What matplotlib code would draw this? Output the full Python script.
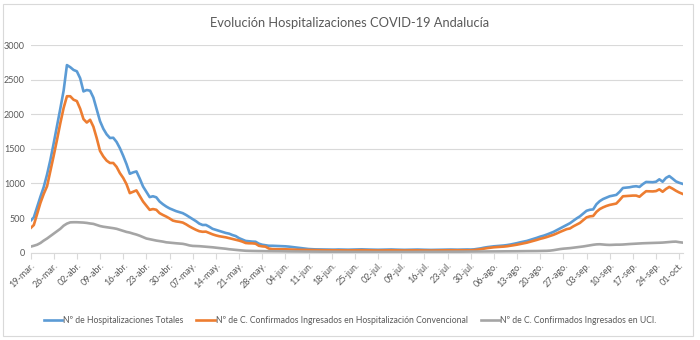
import matplotlib.pyplot as plt
import matplotlib.patches as mpatches
import numpy as np
import pandas as pd

plt.rcParams['font.family'] = ['Lato', 'DejaVu Sans']

# Daily values from 19-mar-2020
total = [
    460, 510, 660, 810, 950, 1130, 1340, 1580, 1830, 2080,
    2340, 2710, 2680, 2640, 2620, 2520, 2330, 2350, 2340, 2240,
    2070, 1900, 1790, 1710, 1657, 1660, 1600, 1510, 1400, 1280,
    1140, 1160, 1174, 1070, 956, 880, 803, 815, 800, 739,
    700, 667, 640, 620, 600, 585, 571, 545, 515, 484,
    455, 420, 400, 401, 375, 345, 330, 315, 300, 285,
    275, 255, 240, 210, 190, 170, 165, 160, 158, 130,
    115, 108, 100, 100, 98, 97, 95, 92, 88, 82,
    76, 70, 64, 58, 53, 50, 48, 47, 46, 45,
    45, 44, 44, 46, 45, 44, 43, 44, 45, 47,
    48, 46, 45, 44, 43, 42, 43, 44, 45, 46,
    44, 43, 42, 41, 42, 43, 44, 45, 43, 42,
    41, 40, 41, 42, 43, 44, 46, 45, 44, 43,
    44, 45, 46, 45, 48, 55, 62, 72, 80, 86,
    92, 96, 100, 104, 110, 118, 128, 138, 150, 160,
    170, 185, 200, 215, 232, 245, 262, 281, 300, 325,
    350, 375, 400, 426, 460, 495, 525, 565, 605, 620,
    625, 700, 745, 775, 795, 815, 825, 835, 880, 935,
    940, 945, 955, 960, 950, 990, 1022, 1020, 1018, 1025,
    1060, 1025, 1080, 1107, 1070, 1030, 1010, 995,
]

convencional = [
    354, 400, 560, 720, 850, 960, 1180, 1400, 1630, 1870,
    2090, 2260, 2260, 2210, 2190, 2080, 1930, 1880, 1920, 1820,
    1655, 1470, 1390, 1330, 1296, 1296, 1240, 1150, 1080, 990,
    860, 880, 900, 820, 739, 680, 619, 630, 620, 571,
    545, 522, 495, 464, 452, 445, 435, 410, 380, 354,
    330, 310, 302, 304, 285, 265, 250, 238, 230, 222,
    210, 198, 185, 175, 160, 140, 136, 135, 130, 100,
    92, 87, 60, 52, 50, 50, 49, 49, 47, 45,
    44, 42, 41, 40, 39, 38, 37, 36, 36, 35,
    35, 34, 34, 35, 34, 33, 33, 34, 35, 36,
    36, 35, 34, 33, 33, 32, 33, 34, 34, 35,
    34, 33, 32, 32, 33, 33, 34, 34, 33, 32,
    32, 31, 32, 33, 34, 34, 35, 35, 34, 34,
    34, 35, 36, 35, 38, 44, 50, 58, 66, 72,
    78, 82, 85, 88, 93, 100, 108, 116, 126, 135,
    145, 158, 170, 185, 200, 212, 226, 242, 258, 278,
    300, 320, 340, 350, 380, 405, 430, 470, 510, 525,
    530, 590, 630, 655, 675, 690, 700, 710, 760, 815,
    818, 822, 825, 825, 808, 850, 888, 886, 885, 890,
    915, 880, 920, 950, 925, 895, 870, 850,
]

uci = [
    87, 100, 115, 140, 175, 205, 240, 275, 310, 345,
    390, 420, 438, 440, 440, 438, 435, 430, 422, 416,
    400, 385, 375, 368, 360, 354, 345, 330, 315, 300,
    290, 275, 262, 245, 225, 205, 195, 185, 175, 168,
    160, 150, 145, 140, 136, 132, 128, 118, 105, 98,
    96, 94, 90, 87, 82, 78, 72, 67, 62, 57,
    50, 45, 40, 36, 32, 28, 26, 25, 24, 23,
    22, 22, 21, 21, 20, 20, 19, 19, 18, 18,
    17, 17, 16, 16, 16, 15, 15, 15, 14, 14,
    14, 13, 13, 13, 12, 12, 12, 12, 11, 11,
    11, 11, 11, 10, 10, 10, 10, 10, 10, 10,
    10, 10, 10, 11, 11, 11, 11, 12, 12, 12,
    12, 12, 13, 13, 13, 13, 14, 14, 14, 15,
    15, 15, 16, 16, 16, 17, 17, 18, 18, 18,
    19, 19, 19, 20, 20, 20, 21, 21, 22, 22,
    23, 23, 24, 24, 25, 25, 27, 30, 36, 44,
    52, 58, 62, 66, 72, 78, 84, 90, 98, 106,
    114, 120, 122, 118, 114, 112, 114, 116, 116, 118,
    122, 125, 128, 132, 134, 136, 138, 140, 141, 142,
    144, 146, 150, 155, 158, 160, 152, 146,
]

meses = {3: 'mar', 4: 'abr', 5: 'may', 6: 'jun', 7: 'jul', 8: 'ago', 9: 'sep', 10: 'oct'}
fechas = pd.date_range('2020-03-19', periods=len(total), freq='D')

txt = '#595959'
grid = '#D9D9D9'

fig = plt.figure(figsize=(7, 3.4), dpi=100)
ax = fig.add_axes([0.0436, 0.2568, 0.9314, 0.6108])

x = np.arange(len(total))
ax.plot(x, total, color='#5B9BD5', lw=1.9, solid_joinstyle='round', label='Nº de Hospitalizaciones Totales')
ax.plot(x, convencional, color='#ED7D31', lw=1.9, solid_joinstyle='round',
        label='Nº de C. Confirmados Ingresados en Hospitalización Convencional')
ax.plot(x, uci, color='#A5A5A5', lw=1.9, solid_joinstyle='round', label='Nº de C. Confirmados Ingresados en UCI.')

ax.set_xlim(0, len(total) - 1)
ax.set_ylim(0, 3000)
ax.set_yticks(np.arange(0, 3001, 500))
ax.yaxis.grid(True, color=grid, lw=0.8)
ax.set_axisbelow(True)

ticks = x[::7]
ax.set_xticks(ticks)
ax.set_xticklabels([f'{fechas[i].day:02d}-{meses[fechas[i].month]}.' for i in ticks],
                   rotation=45, ha='right', rotation_mode='anchor')

for s in ['top', 'right', 'left']:
    ax.spines[s].set_visible(False)
ax.spines['bottom'].set_color(grid)
ax.spines['bottom'].set_linewidth(0.8)
ax.tick_params(axis='y', length=0, labelsize=6.5, labelcolor=txt, pad=4)
ax.tick_params(axis='x', length=4, color=grid, labelsize=6.5, labelcolor=txt, pad=2)

fig.text(0.5, 0.932, 'Evolución Hospitalizaciones COVID-19 Andalucía', ha='center', va='center',
         fontsize=9.3, color=txt)

fig.legend(loc='center', bbox_to_anchor=(0.5, 0.058), ncol=3, frameon=False, fontsize=6.2,
           handlelength=2.1, columnspacing=1.5, handletextpad=0.15, labelcolor=txt)

fig.patches.append(mpatches.Rectangle((3 / 700, 4 / 340), 690 / 700, 332 / 340, transform=fig.transFigure,
                                      fill=False, edgecolor=grid, lw=0.8))

fig.savefig('out.png', dpi=100, facecolor='white')
